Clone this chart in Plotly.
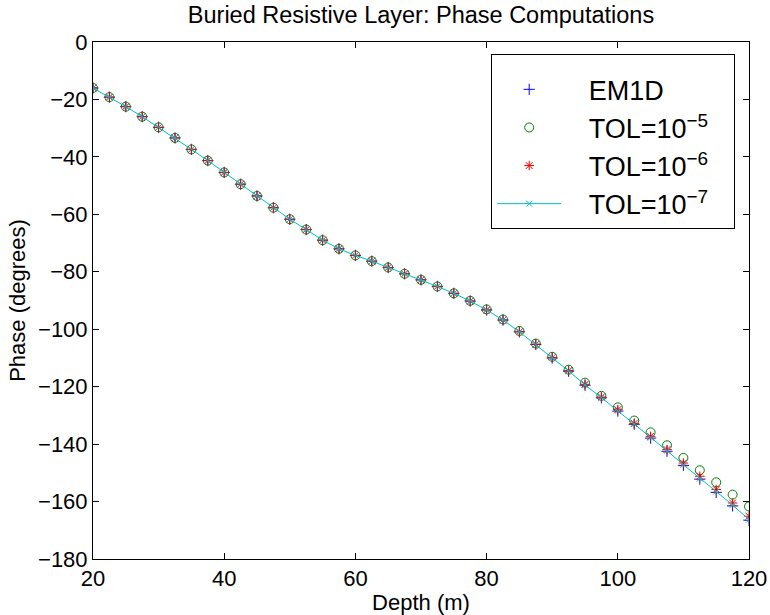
import plotly.graph_objects as go

depth = [20, 22.5, 25, 27.5, 30, 32.5, 35, 37.5, 40, 42.5, 45, 47.5, 50, 52.5, 55, 57.5,
         60, 62.5, 65, 67.5, 70, 72.5, 75, 77.5, 80, 82.5, 85, 87.5, 90, 92.5, 95, 97.5,
         100, 102.5, 105, 107.5, 110, 112.5, 115, 117.5, 120]

tol7 = [-16.0, -19.2, -22.5, -26.0, -29.7, -33.4, -37.4, -41.3, -45.4, -49.5, -53.6, -57.7,
        -61.7, -65.3, -69.0, -72.0, -74.3, -76.3, -78.5, -80.7, -82.8, -85.1, -87.5, -90.2,
        -93.3, -96.8, -100.9, -105.3, -110.0, -114.5, -119.4, -123.8, -128.4, -133.0, -137.8,
        -142.3, -147.2, -152.0, -156.5, -161.2, -166.3]

em1d = [-16.0, -19.2, -22.5, -26.0, -29.7, -33.4, -37.4, -41.3, -45.4, -49.5, -53.6, -57.7,
        -61.7, -65.3, -69.0, -72.0, -74.3, -76.3, -78.5, -80.7, -82.8, -85.1, -87.5, -90.2,
        -93.3, -96.8, -100.9, -105.3, -110.0, -114.6, -119.5, -123.9, -128.5, -133.1, -137.9,
        -142.5, -147.4, -152.2, -156.8, -161.5, -166.5]

tol5 = [-16.0, -19.2, -22.5, -26.0, -29.7, -33.4, -37.4, -41.3, -45.4, -49.5, -53.6, -57.7,
        -61.7, -65.3, -69.0, -72.0, -74.3, -76.3, -78.5, -80.7, -82.8, -85.1, -87.5, -90.1,
        -93.1, -96.6, -100.6, -105.0, -109.6, -114.1, -118.6, -123.2, -127.2, -131.8, -135.9,
        -140.4, -144.8, -149.1, -153.3, -157.6, -161.7]

tol6 = [-16.0, -19.2, -22.5, -26.0, -29.7, -33.4, -37.4, -41.3, -45.4, -49.5, -53.6, -57.7,
        -61.7, -65.3, -69.0, -72.0, -74.3, -76.3, -78.5, -80.7, -82.8, -85.1, -87.5, -90.2,
        -93.3, -96.8, -100.9, -105.2, -109.9, -114.4, -119.2, -123.6, -128.0, -132.8, -137.3,
        -141.9, -146.6, -151.2, -155.8, -160.5, -165.1]

PAD = "\u00a0\u00a0\u00a0"
TAIL = "\u00a0\u00a0\u2009"
names = [PAD + "EM1D", PAD + "TOL=10<sup>\u22125</sup>" + TAIL, PAD + "TOL=10<sup>\u22126</sup>" + TAIL,
         PAD + "TOL=10<sup>\u22127</sup>" + TAIL]
x_ticks = [20, 40, 60, 80, 100, 120]
y_ticks = [0, -20, -40, -60, -80, -100, -120, -140, -160, -180]

FONT = "Liberation Sans, Arial, Helvetica, sans-serif"

fig = go.Figure()
fig.add_trace(go.Scatter(x=depth, y=em1d, mode="markers", name=names[0],
                         marker=dict(symbol="cross-thin-open", size=8, color="#0000FF",
                                     line=dict(width=1, color="#0000FF"))))
fig.add_trace(go.Scatter(x=depth, y=tol5, mode="markers", name=names[1],
                         marker=dict(symbol="circle-open", size=9, color="#008000",
                                     line=dict(width=1, color="#008000"))))
fig.add_trace(go.Scatter(x=depth, y=tol6, mode="markers", name=names[2],
                         marker=dict(symbol="asterisk-open", size=8, color="#FF0000",
                                     line=dict(width=1, color="#FF0000"))))
fig.add_trace(go.Scatter(x=depth, y=tol7, mode="lines+markers", name=names[3],
                         line=dict(color="#00BFBF", width=1),
                         marker=dict(symbol="x-thin-open", size=6, color="#00BFBF",
                                     line=dict(width=1, color="#00BFBF"))))

axis_common = dict(showline=True, linecolor="black", linewidth=1, mirror="ticks",
                   ticks="inside", ticklen=6, tickcolor="black", tickwidth=1,
                   showgrid=False, zeroline=False, automargin=False,
                   tickfont=dict(family=FONT, size=22, color="black"))

fig.update_layout(
    width=770, height=615,
    margin=dict(l=93, r=21, t=42, b=56),
    paper_bgcolor="white", plot_bgcolor="white",
    font=dict(family=FONT, color="black"),
    title=dict(text="Buried Resistive Layer: Phase Computations",
               font=dict(family=FONT, size=23.5, color="black"),
               x=0.5, xref="paper", xanchor="center",
               y=1 - 15 / 615, yref="container", yanchor="middle"),
    xaxis=dict(range=[20, 120], tickvals=x_ticks,
               title=dict(text="Depth (m)", font=dict(family=FONT, size=22), standoff=4),
               **axis_common),
    yaxis=dict(range=[-180, 0], tickvals=y_ticks,
               title=dict(text="Phase (degrees)", font=dict(family=FONT, size=22), standoff=6),
               **axis_common),
    showlegend=True,
    legend=dict(x=0.607, y=0.977, xanchor="left", yanchor="top",
                bgcolor="white", bordercolor="black", borderwidth=1,
                font=dict(family=FONT, size=27, color="black"),
                title=dict(text="\u00a0", font=dict(size=8)),
                itemwidth=64, tracegroupgap=0),
)

fig.write_html("out.html", config={"displayModeBar": False},
               post_script="document.body.style.margin='0';")
